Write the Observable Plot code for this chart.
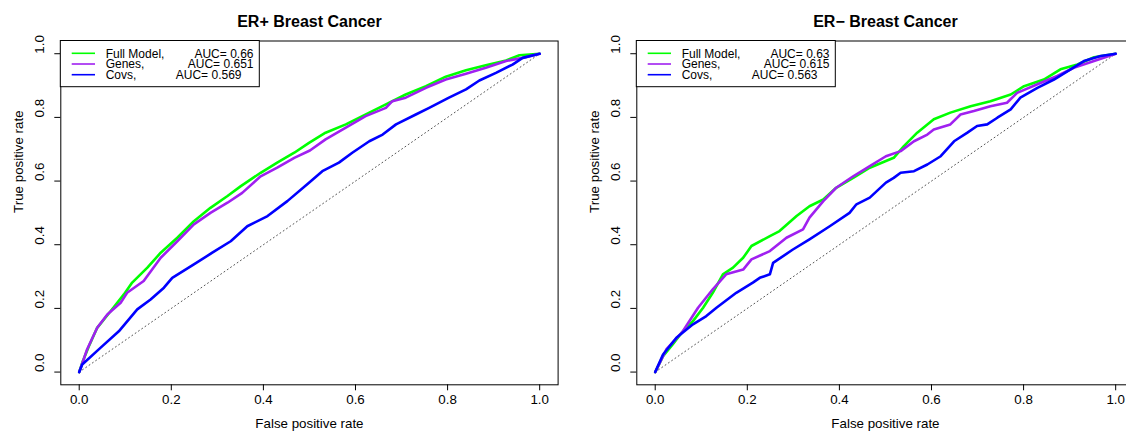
<!DOCTYPE html>
<html><head><meta charset="utf-8">
<script src="https://cdn.jsdelivr.net/npm/d3@7"></script>
<script src="https://cdn.jsdelivr.net/npm/@observablehq/plot@0.6"></script>
<style>
html,body{margin:0;padding:0;background:#fff;}
#wrap{position:relative;width:1126px;height:439px;overflow:hidden;background:#fff;}
.panel{position:absolute;top:0;width:576px;height:439px;}
.panel svg{max-width:none !important;width:576px;height:439px;display:block;}
</style></head><body><div id="wrap"></div>
<script>
const tickValues = [0, 0.2, 0.4, 0.6, 0.8, 1.0];
const seriesNames = ["Full Model,", "Genes,", "Covs,"];
const seriesColors = ["#00FF00", "#A020F0", "#0000FF"];
const panelTitles = ["ER+ Breast Cancer", "ER\u2212 Breast Cancer"];
const erPosAuc = ["AUC= 0.66", "AUC= 0.651", "AUC= 0.569"];
const erNegAuc = ["AUC= 0.63", "AUC= 0.615", "AUC= 0.563"];
const diagonal = [0, 1];

// [false positive rate, true positive rate]
const erPosFull = [[0,0],[.0065,.029],[.021,.081],[.039,.139],[.068,.191],[.097,.244],[.115,.281],[.148,.328],[.177,.375],[.213,.422],[.249,.474],[.285,.516],[.322,.553],[.351,.584],[.394,.626],[.430,.658],[.467,.689],[.499,.720],[.535,.752],[.579,.778],[.630,.815],[.666,.841],[.709,.872],[.753,.898],[.796,.928],[.840,.948],[.883,.964],[.927,.979],[.956,.995],[1,1]];
const erPosGenes = [[0,0],[.017,.071],[.039,.139],[.061,.181],[.090,.218],[.104,.249],[.140,.286],[.177,.359],[.213,.411],[.249,.464],[.285,.500],[.322,.532],[.354,.563],[.394,.615],[.430,.642],[.467,.673],[.501,.696],[.535,.731],[.579,.768],[.622,.804],[.666,.830],[.680,.851],[.709,.862],[.753,.893],[.796,.919],[.840,.937],[.883,.956],[.927,.977],[.963,.987],[1,1]];
const erPosCovs = [[0,0],[.0065,.024],[.046,.076],[.086,.128],[.126,.197],[.155,.228],[.184,.265],[.202,.296],[.249,.338],[.289,.375],[.329,.411],[.365,.458],[.409,.490],[.452,.537],[.499,.595],[.528,.631],[.564,.658],[.593,.689],[.630,.725],[.659,.746],[.688,.778],[.731,.809],[.760,.830],[.803,.862],[.840,.888],[.869,.916],[.905,.940],[.941,.966],[.963,.987],[1,1]];
const erNegFull = [[0,0],[.017,.050],[.038,.087],[.060,.128],[.082,.160],[.104,.202],[.125,.249],[.147,.307],[.169,.328],[.191,.359],[.209,.396],[.249,.427],[.270,.443],[.307,.490],[.335,.521],[.365,.542],[.393,.579],[.430,.610],[.466,.642],[.501,.663],[.518,.673],[.540,.710],[.569,.752],[.605,.794],[.641,.815],[.685,.835],[.728,.851],[.772,.872],[.801,.898],[.844,.919],[.880,.951],[.917,.966],[.953,.989],[1,1]];
const erNegGenes = [[0,0],[.024,.071],[.060,.128],[.093,.202],[.125,.260],[.154,.307],[.191,.322],[.209,.354],[.249,.380],[.285,.422],[.321,.448],[.335,.485],[.365,.537],[.393,.579],[.430,.615],[.466,.647],[.501,.678],[.533,.694],[.562,.725],[.591,.746],[.605,.762],[.641,.778],[.663,.809],[.692,.820],[.728,.835],[.764,.846],[.786,.877],[.830,.904],[.873,.930],[.909,.956],[.953,.977],[1,1]];
const erNegCovs = [[0,0],[.017,.055],[.046,.108],[.082,.150],[.111,.176],[.133,.202],[.176,.249],[.212,.281],[.227,.296],[.249,.307],[.256,.343],[.299,.385],[.335,.417],[.379,.458],[.422,.500],[.437,.527],[.466,.548],[.501,.595],[.518,.610],[.533,.626],[.562,.631],[.591,.652],[.620,.678],[.649,.725],[.678,.752],[.699,.773],[.721,.778],[.743,.799],[.772,.825],[.793,.862],[.830,.893],[.866,.919],[.902,.951],[.931,.977],[.967,.993],[1,1]];

const FONT = "'Liberation Sans', Arial, Helvetica, sans-serif";
const fmt = d3.format(".1f");

function legendMark(aucs) {
  return (index, scales, values, dims) => {
    const g = d3.create("svg:g").attr("font-family", FONT).attr("font-size", 12);
    const x0 = dims.marginLeft, y0 = dims.marginTop;
    g.append("rect").attr("x", x0).attr("y", y0).attr("width", 199).attr("height", 46.2)
      .attr("fill", "white").attr("stroke", "black").attr("stroke-width", 1);
    const ends = [193.2, 193.2, 181.2];
    seriesNames.forEach((name, i) => {
      const cy = y0 + 12.8 + i * 10.7;
      g.append("line").attr("x1", x0 + 11.4).attr("x2", x0 + 34.7).attr("y1", cy).attr("y2", cy)
        .attr("stroke", seriesColors[i]).attr("stroke-width", 1.6);
      g.append("text").attr("x", x0 + 45.4).attr("y", cy).attr("dy", "0.36em")
        .attr("text-anchor", "start").attr("fill", "black").text(name);
      g.append("text").attr("x", x0 + ends[i]).attr("y", cy).attr("dy", "0.36em")
        .attr("text-anchor", "end").attr("fill", "black").text(aucs[i]);
    });
    return g.node();
  };
}

function panel(title, series, aucs) {
  const curves = series.map((data, i) =>
    Plot.line(data, {x: d => d[0], y: d => d[1], stroke: seriesColors[i], strokeWidth: 2.6,
      strokeLinejoin: "round", strokeLinecap: "round"}));
  return Plot.plot({
    width: 576, height: 439,
    marginLeft: 60.3, marginRight: 18.4, marginTop: 40.5, marginBottom: 54.7,
    x: {domain: [-0.04, 1.04], axis: null},
    y: {domain: [-0.04, 1.04], axis: null},
    style: {fontFamily: FONT, fontSize: "13.33px", background: "white", color: "black", overflow: "visible"},
    marks: [
      Plot.line(diagonal, {x: d => d, y: d => d, stroke: "#555", strokeWidth: 1, strokeDasharray: "1,3"}),
      ...curves,
      Plot.axisX({ticks: tickValues, tickSize: 6, tickFormat: () => "", label: null, stroke: "black"}),
      Plot.axisY({ticks: tickValues, tickSize: 6, tickFormat: () => "", label: null, stroke: "black"}),
      Plot.text(tickValues, {x: d => d, frameAnchor: "bottom", dy: 18.7, text: d => fmt(d), fill: "black", fontSize: 13.33}),
      Plot.text(tickValues, {y: d => d, frameAnchor: "left", dx: -21, rotate: -90, text: d => fmt(d), fill: "black", fontSize: 13.33}),
      Plot.text(["False positive rate"], {frameAnchor: "bottom", dy: 42.7, text: d => d, fill: "black", fontSize: 13.33}),
      Plot.text(["True positive rate"], {frameAnchor: "left", dx: -42.5, rotate: -90, text: d => d, fill: "black", fontSize: 13.33}),
      Plot.text([title], {frameAnchor: "top", dy: -25, text: d => d, fill: "black", fontSize: 16, fontWeight: "bold"}),
      Plot.frame({stroke: "black", strokeWidth: 1}),
      legendMark(aucs)
    ]
  });
}

const wrap = document.getElementById("wrap");
const p1 = document.createElement("div"); p1.className = "panel"; p1.style.left = "0px";
const p2 = document.createElement("div"); p2.className = "panel"; p2.style.left = "576px";
p1.appendChild(panel(panelTitles[0], [erPosFull, erPosGenes, erPosCovs], erPosAuc));
p2.appendChild(panel(panelTitles[1], [erNegFull, erNegGenes, erNegCovs], erNegAuc));
wrap.appendChild(p1); wrap.appendChild(p2);
</script></body></html>
